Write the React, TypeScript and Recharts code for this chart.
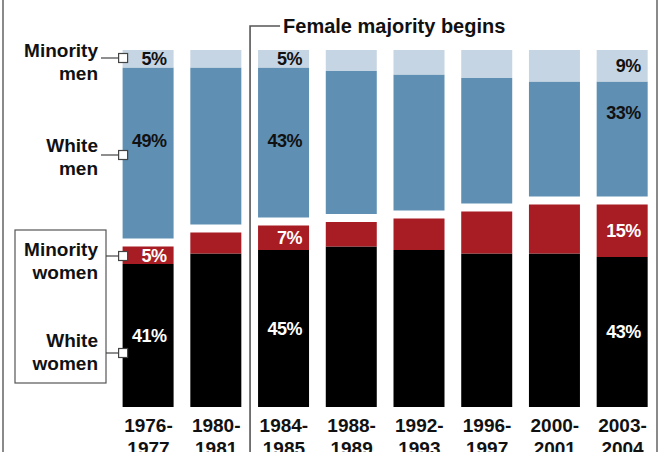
import React from "react";
import { Bar, BarChart, LabelList, XAxis, YAxis } from "recharts";

const categories = [
  "1976-1977",
  "1980-1981",
  "1984-1985",
  "1988-1989",
  "1992-1993",
  "1996-1997",
  "2000-2001",
  "2003-2004"
];
const whiteWomen = [41, 44, 45, 46, 45, 44, 44, 43];
const minorityWomen = [5, 6, 7, 7, 9, 12, 14, 15];
const whiteMen = [49, 45, 43, 41, 39, 36, 33, 33];
const minorityMen = [5, 5, 5, 6, 7, 8, 9, 9];
// bars that carry percentage labels
const labeledBars = [0, 2, 7];

// white space between the women and men parts of each bar (in % units)
const GAP = 2.3;

const data = categories.map((period, i) => ({
  period,
  whiteWomen: whiteWomen[i],
  minorityWomen: minorityWomen[i],
  gap: GAP,
  whiteMen: whiteMen[i],
  minorityMen: minorityMen[i]
}));

const W = 663;
const H = 452;
const margin = { top: 50, right: 6.6, bottom: 0, left: 114.6 };
const AXIS_H = 45;
const band = (W - margin.left - margin.right) / categories.length;
const dividerX = margin.left + 2 * band;

const FONT = "'Liberation Sans', Arial, Helvetica, sans-serif";
const COLORS = {
  minorityMen: "#c6d5e3",
  whiteMen: "#5f8fb3",
  minorityWomen: "#a81c24",
  whiteWomen: "#000000"
};

// offsets from the top of the white-men segment where the label sits
const whiteMenLabelOffset: Record<number, number> = { 0: 73, 2: 73, 7: 31 };

function makeLabel(color: string, series?: string) {
  return (props: any) => {
    const { x, y, width, height, index, value } = props;
    if (!labeledBars.includes(index)) return null;
    const top = Math.min(y, y + height);
    const h = Math.abs(height);
    let cy = top + h / 2;
    if (series === "whiteMen") cy = top + (whiteMenLabelOffset[index] ?? h / 2);
    return (
      <text
        x={x + width - 7}
        y={cy}
        dy="0.36em"
        textAnchor="end"
        fill={color}
        fontFamily={FONT}
        fontWeight="bold"
        fontSize={18}
        letterSpacing={-0.5}
      >
        {`${value}%`}
      </text>
    );
  };
}

function PeriodTick(props: any) {
  const { x, y, payload } = props;
  const [from, to] = String(payload.value).split("-");
  return (
    <text
      x={x}
      y={y}
      textAnchor="middle"
      fill="#111"
      fontFamily={FONT}
      fontWeight="bold"
      fontSize={19}
    >
      <tspan x={x} dy={25}>{`${from}-`}</tspan>
      <tspan x={x} dy={23}>{to}</tspan>
    </text>
  );
}

function Marker({ cy }: { cy: number }) {
  return (
    <rect
      x={margin.left + 4}
      y={cy - 4.5}
      width={9}
      height={9}
      fill="#fff"
      stroke="#444"
      strokeWidth={1.2}
    />
  );
}

// cy = vertical centre of the first text line
function LegendLabel({ lines, cy }: { lines: string[]; cy: number }) {
  return (
    <text
      textAnchor="end"
      fill="#111"
      fontFamily={FONT}
      fontWeight="bold"
      fontSize={19}
    >
      <tspan x={98} y={cy + 7}>{lines[0]}</tspan>
      <tspan x={98} y={cy + 30}>{lines[1]}</tspan>
    </text>
  );
}

export default function App() {
  return (
    <div
      style={{
        position: "absolute",
        left: 0,
        top: 0,
        width: W,
        height: H,
        background: "#fff",
        overflow: "hidden"
      }}
    >
      <BarChart width={W} height={H} data={data} margin={margin} barSize={51}>
        <XAxis
          dataKey="period"
          axisLine={false}
          tickLine={false}
          tickSize={0}
          tickMargin={0}
          height={AXIS_H}
          interval={0}
          tick={<PeriodTick />}
        />
        <YAxis hide domain={[0, 100 + GAP]} />
        <Bar dataKey="whiteWomen" stackId="a" fill={COLORS.whiteWomen} isAnimationActive={false}>
          <LabelList dataKey="whiteWomen" content={makeLabel("#fff")} />
        </Bar>
        <Bar dataKey="minorityWomen" stackId="a" fill={COLORS.minorityWomen} isAnimationActive={false}>
          <LabelList dataKey="minorityWomen" content={makeLabel("#fff")} />
        </Bar>
        <Bar dataKey="gap" stackId="a" fill="transparent" isAnimationActive={false} />
        <Bar dataKey="whiteMen" stackId="a" fill={COLORS.whiteMen} isAnimationActive={false}>
          <LabelList dataKey="whiteMen" content={makeLabel("#111", "whiteMen")} />
        </Bar>
        <Bar dataKey="minorityMen" stackId="a" fill={COLORS.minorityMen} isAnimationActive={false}>
          <LabelList dataKey="minorityMen" content={makeLabel("#111")} />
        </Bar>
      </BarChart>

      <svg
        width={W}
        height={H}
        style={{ position: "absolute", left: 0, top: 0, pointerEvents: "none" }}
      >
        {/* frame edges */}
        <line x1={3} y1={0} x2={3} y2={H} stroke="#8a8a8a" strokeWidth={2} />
        <line x1={657} y1={0} x2={657} y2={H} stroke="#8a8a8a" strokeWidth={2} />

        {/* female majority marker */}
        <polyline
          points={`${dividerX},${H} ${dividerX},26 ${dividerX + 30},26`}
          fill="none"
          stroke="#555"
          strokeWidth={1.6}
        />
        <text
          x={dividerX + 33}
          y={26}
          dy="0.36em"
          fill="#111"
          fontFamily={FONT}
          fontWeight="bold"
          fontSize={20}
        >
          Female majority begins
        </text>

        {/* men labels */}
        <LegendLabel lines={["Minority", "men"]} cy={50} />
        <line x1={101} y1={58} x2={margin.left + 4} y2={58} stroke="#444" strokeWidth={1.2} />
        <Marker cy={58} />
        <LegendLabel lines={["White", "men"]} cy={145} />
        <line x1={101} y1={155} x2={margin.left + 4} y2={155} stroke="#444" strokeWidth={1.2} />
        <Marker cy={155} />

        {/* women labels in a box */}
        <rect x={15} y={230} width={91} height={153} fill="#fff" stroke="#555" strokeWidth={1.2} />
        <LegendLabel lines={["Minority", "women"]} cy={249} />
        <line x1={106} y1={256} x2={margin.left + 4} y2={256} stroke="#444" strokeWidth={1.2} />
        <Marker cy={256} />
        <LegendLabel lines={["White", "women"]} cy={340} />
        <line x1={106} y1={353} x2={margin.left + 4} y2={353} stroke="#444" strokeWidth={1.2} />
        <Marker cy={353} />
      </svg>
    </div>
  );
}
